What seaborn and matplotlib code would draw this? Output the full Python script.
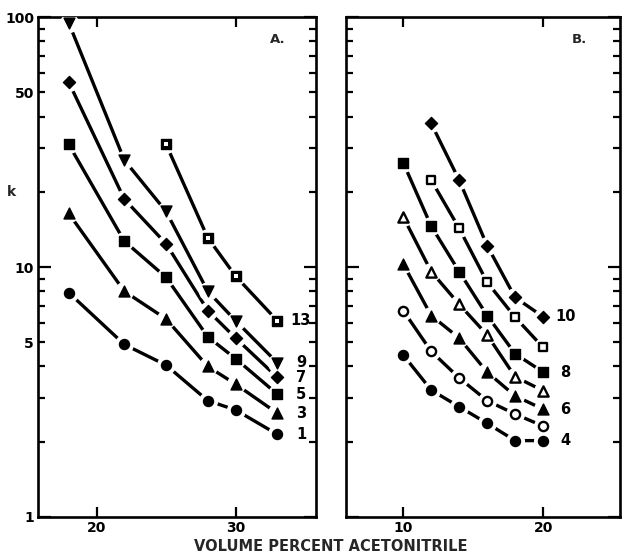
import numpy as np
import pandas as pd
import matplotlib
matplotlib.use("Agg")
import matplotlib.pyplot as plt
from matplotlib.ticker import FixedLocator, NullFormatter
import seaborn as sns

# ---- data: retention factor k vs. volume percent acetonitrile ----
x_a = [18, 22, 25, 28, 30, 33]
k_a1 = [7.9, 4.9, 4.05, 2.92, 2.68, 2.14]
k_a3 = [16.4, 8.0, 6.2, 4.0, 3.4, 2.6]
k_a5 = [31.0, 12.7, 9.1, 5.26, 4.3, 3.1]
k_a7 = [55.0, 18.7, 12.4, 6.7, 5.2, 3.62]
k_a9 = [95.0, 26.8, 16.7, 8.0, 6.1, 4.14]
x_a13 = [25, 28, 30, 33]
k_a13 = [31.0, 13.1, 9.2, 6.1]

x_b = [10, 12, 14, 16, 18, 20]
k_b4 = [4.45, 3.22, 2.76, 2.37, 2.02, 2.02]
k_b5 = [6.7, 4.6, 3.6, 2.92, 2.58, 2.31]
k_b6 = [10.3, 6.4, 5.2, 3.8, 3.05, 2.7]
k_b7 = [15.9, 9.6, 7.1, 5.35, 3.64, 3.2]
k_b8 = [26.2, 14.6, 9.6, 6.4, 4.5, 3.8]
x_b9 = [12, 14, 16, 18, 20]
k_b9 = [22.3, 14.3, 8.7, 6.3, 4.77]
x_b10 = [12, 14, 16, 18, 20]
k_b10 = [37.6, 22.3, 12.2, 7.56, 6.33]

# (name, x, k, marker, filled, end label)
series_a = [
    ("1", x_a, k_a1, "o", True, "1"),
    ("3", x_a, k_a3, "^", True, "3"),
    ("5", x_a, k_a5, "s", True, "5"),
    ("7", x_a, k_a7, "D", True, "7"),
    ("9", x_a, k_a9, "v", True, "9"),
    ("13", x_a13, k_a13, "s", "dot", "13"),
]
series_b = [
    ("4", x_b, k_b4, "o", True, "4"),
    ("5", x_b, k_b5, "o", False, ""),
    ("6", x_b, k_b6, "^", True, "6"),
    ("7", x_b, k_b7, "^", False, ""),
    ("8", x_b, k_b8, "s", True, "8"),
    ("9", x_b9, k_b9, "s", False, ""),
    ("10", x_b10, k_b10, "D", True, "10"),
]

sns.set_theme(style="ticks")
plt.rcParams["font.family"] = ["DejaVu Sans"]
plt.rcParams["font.weight"] = "bold"

fig = plt.figure(figsize=(6.25, 5.57), dpi=100)
ax_a = fig.add_axes([0.061, 0.072, 0.445, 0.897])
ax_b = fig.add_axes([0.554, 0.072, 0.438, 0.897])

msize = {"o": 52, "^": 62, "v": 62, "s": 48, "D": 38}


def draw_panel(ax, series, label_x, label_ha):
    for name, xs, ks, mk, filled, lab in series:
        df = pd.DataFrame({"x": xs, "k": ks})
        sns.lineplot(data=df, x="x", y="k", ax=ax, color="black",
                     lw=2.4, zorder=2, legend=False)
        # white halo leaves a small gap between line and symbol
        sns.scatterplot(data=df, x="x", y="k", ax=ax, marker="o", s=190,
                        color="white", linewidth=0, zorder=3, legend=False)
        if filled is True:
            sns.scatterplot(data=df, x="x", y="k", ax=ax, marker=mk,
                            s=msize[mk], color="black", edgecolor="black",
                            linewidth=1, zorder=4, legend=False)
        elif filled == "dot":
            sns.scatterplot(data=df, x="x", y="k", ax=ax, marker=mk,
                            s=msize[mk] + 6, color="black", edgecolor="black",
                            linewidth=1, zorder=4, legend=False)
            sns.scatterplot(data=df, x="x", y="k", ax=ax, marker="s",
                            s=6, color="white", linewidth=0, zorder=5,
                            legend=False)
        else:
            sns.scatterplot(data=df, x="x", y="k", ax=ax, marker=mk,
                            s=msize[mk] - 8, color="white", edgecolor="black",
                            linewidth=1.7, zorder=4, legend=False)
        if lab:
            ax.text(label_x, ks[-1], lab, ha=label_ha, va="center",
                    fontsize=10.5, fontweight="bold", color="black")


draw_panel(ax_a, series_a, 34.7, "center")
draw_panel(ax_b, series_b, 21.6, "center")

major_y = [1, 10, 100]
minor_y = [2, 3, 4, 5, 6, 7, 8, 9, 20, 30, 40, 50, 60, 70, 80, 90]

for ax, xlim, xt in [(ax_a, (15.8, 35.8), [20, 30]), (ax_b, (5.93, 25.5), [10, 20])]:
    ax.set_yscale("log")
    ax.set_ylim(1, 100)
    ax.set_xlim(*xlim)
    ax.set_xticks(xt)
    ax.set_xticklabels([str(v) for v in xt], fontsize=10, fontweight="bold")
    ax.yaxis.set_major_locator(FixedLocator(major_y))
    ax.yaxis.set_minor_locator(FixedLocator(minor_y))
    ax.set_xlabel("")
    ax.set_ylabel("")
    for sp in ax.spines.values():
        sp.set_visible(True)
        sp.set_linewidth(1.9)
        sp.set_color("black")
    ax.tick_params(axis="both", which="both", direction="in", top=True,
                   right=True, colors="black", width=1.6)
    ax.tick_params(axis="y", which="major", length=9)
    ax.tick_params(axis="y", which="minor", length=5)
    ax.tick_params(axis="x", which="major", length=7, pad=3)

ax_a.set_yticks(major_y)
ax_a.set_yticklabels(["1", "10", "100"], fontsize=10, fontweight="bold")
ax_a.set_yticks(minor_y, minor=True)
ax_a.set_yticklabels(["" if v not in (5, 50) else str(v) for v in minor_y],
                     minor=True, fontsize=10, fontweight="bold")
ax_a.tick_params(axis="y", which="both", pad=3)
ax_b.set_yticklabels([])
ax_b.yaxis.set_minor_formatter(NullFormatter())

ax_a.text(-0.095, 0.65, "k", transform=ax_a.transAxes, ha="center",
          va="center", fontsize=10, fontweight="bold")
ax_a.text(0.86, 0.955, "A.", transform=ax_a.transAxes, ha="center",
          va="center", fontsize=9.5, fontweight="bold")
ax_b.text(0.85, 0.955, "B.", transform=ax_b.transAxes, ha="center",
          va="center", fontsize=9.5, fontweight="bold")

fig.text(0.53, 0.018, "VOLUME PERCENT ACETONITRILE", ha="center",
         va="center", fontsize=10.5, fontweight="bold")

fig.savefig("out.png", dpi=100, facecolor="white")
